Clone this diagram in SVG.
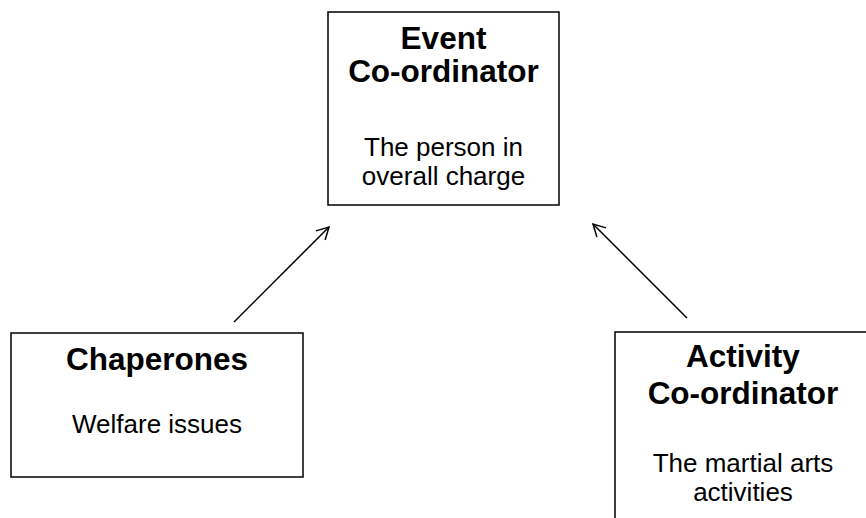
<svg xmlns="http://www.w3.org/2000/svg" width="866" height="518" viewBox="0 0 866 518">
<defs>
<style>
.box{fill:#fff;stroke:#000;stroke-width:1.5}
.t{font-family:"Liberation Sans",Arial,sans-serif;text-anchor:middle;fill:#000}
.b{font-weight:bold;font-size:31.5px}
.r{font-size:26px}
.c{stroke:#000;stroke-width:1.5;fill:none}
</style>
<marker id="ah" markerWidth="16" markerHeight="16" refX="13" refY="8" orient="auto" markerUnits="userSpaceOnUse">
<path d="M1,1.5 L13,8 L1,14.5" fill="none" stroke="#000" stroke-width="1.5"/>
</marker>
</defs>
<rect width="866" height="518" fill="#fff"/>
<g id="event">
<rect class="box" x="328" y="12" width="231" height="193"/>
<text class="t b" x="443.5" y="49">Event</text>
<text class="t b" x="443.5" y="82">Co-ordinator</text>
<text class="t r" x="443.5" y="156">The person in</text>
<text class="t r" x="443.5" y="185">overall charge</text>
</g>
<g id="chaperones">
<rect class="box" x="11" y="333" width="292" height="144"/>
<text class="t b" x="157" y="370">Chaperones</text>
<text class="t r" x="157" y="433">Welfare issues</text>
</g>
<g id="activity">
<rect class="box" x="615" y="332" width="270" height="210"/>
<text class="t b" x="743" y="367">Activity</text>
<text class="t b" x="743" y="404">Co-ordinator</text>
<text class="t r" x="743" y="472">The martial arts</text>
<text class="t r" x="743" y="501">activities</text>
</g>
<g id="connectors">
<line class="c" x1="234" y1="322" x2="329" y2="227" marker-end="url(#ah)"/>
<line class="c" x1="687" y1="318" x2="593" y2="224" marker-end="url(#ah)"/>
</g>
</svg>
